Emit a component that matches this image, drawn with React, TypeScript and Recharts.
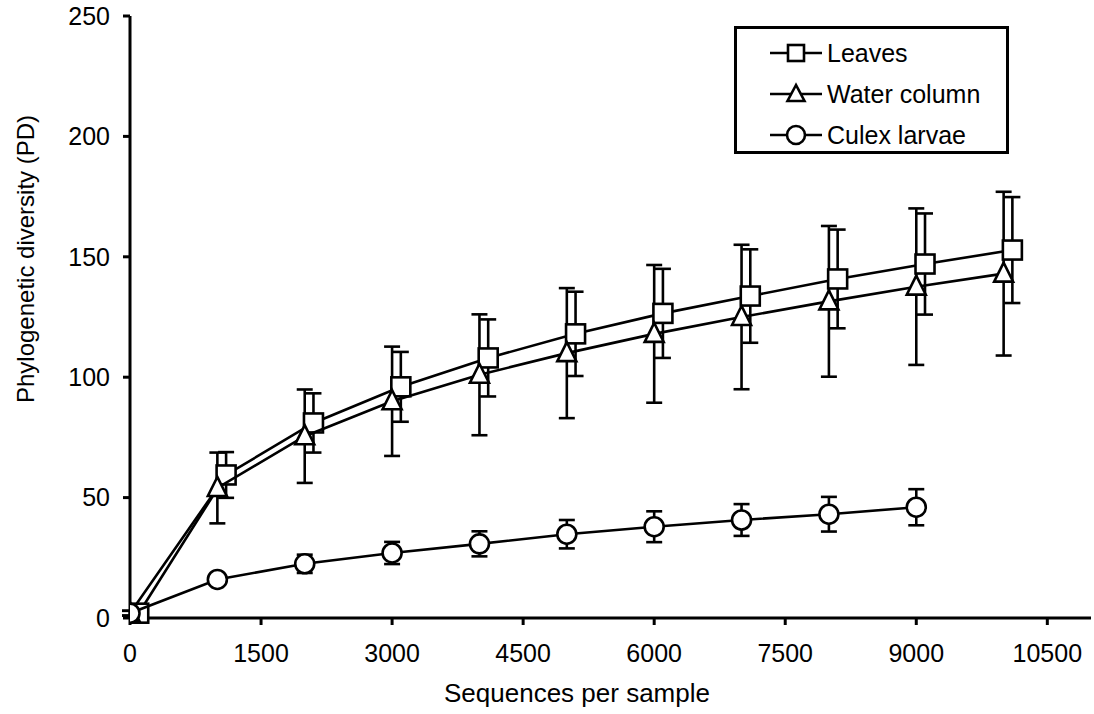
import { ErrorBar, Scatter, ScatterChart, XAxis, YAxis, Label } from "recharts";

const seriesNames = ["Leaves", "Water column", "Culex larvae"];
const xTitle = "Sequences per sample";
const yTitle = "Phylogenetic diversity (PD)";

const leavesX = [100, 1100, 2100, 3100, 4100, 5100, 6100, 7100, 8100, 9100, 10100];
const leavesPD = [2, 59.4, 81, 96, 108, 118, 126.5, 133.7, 140.8, 147, 152.8];
const leavesErr = [1, 9.5, 12.3, 14.5, 16, 17.5, 18.5, 19.4, 20.5, 21, 22];

const waterX = [0, 1000, 2000, 3000, 4000, 5000, 6000, 7000, 8000, 9000, 10000];
const waterPD = [2, 54, 75.5, 90, 101, 110, 118, 125, 131.5, 137.6, 143];
const waterErr = [1, 14.7, 19.4, 22.7, 25.1, 27, 28.6, 30, 31.3, 32.5, 34];

const culexX = [0, 1000, 2000, 3000, 4000, 5000, 6000, 7000, 8000, 9000];
const culexPD = [2, 16, 22.5, 27, 30.8, 34.8, 37.9, 40.7, 43.1, 46];
const culexErr = [1, 2, 3.8, 4.6, 5.2, 5.9, 6.4, 6.6, 7.2, 7.5];

const xTicks = [0, 1500, 3000, 4500, 6000, 7500, 9000, 10500];
const yTicks = [0, 50, 100, 150, 200, 250];

const toRows = (xs: number[], ys: number[], es: number[]) =>
  xs.map((x, i) => ({ x, y: ys[i], err: es[i] }));

const leaves = toRows(leavesX, leavesPD, leavesErr);
const water = toRows(waterX, waterPD, waterErr);
const culex = toRows(culexX, culexPD, culexErr);

const FONT = "'Liberation Sans', Arial, sans-serif";
const SW = 2.6;

const SquareMark = ({ cx, cy }: any) => (
  <rect x={cx - 9.5} y={cy - 9.5} width={19} height={19} fill="#fff" stroke="#000" strokeWidth={SW} />
);
const TriMark = ({ cx, cy }: any) => (
  <polygon
    points={`${cx},${cy - 11} ${cx - 9.5},${cy + 8} ${cx + 9.5},${cy + 8}`}
    fill="#fff"
    stroke="#000"
    strokeWidth={SW}
  />
);
const CircleMark = ({ cx, cy }: any) => (
  <circle cx={cx} cy={cy} r={9.5} fill="#fff" stroke="#000" strokeWidth={SW} />
);

function LegendIcon({ kind }: { kind: number }) {
  return (
    <svg width={56} height={24} style={{ display: "block" }}>
      <line x1={2} y1={12} x2={54} y2={12} stroke="#000" strokeWidth={SW} />
      {kind === 0 && <rect x={20} y={4} width={16} height={16} fill="#fff" stroke="#000" strokeWidth={SW} />}
      {kind === 1 && (
        <polygon points="28,3 19.5,19 36.5,19" fill="#fff" stroke="#000" strokeWidth={SW} />
      )}
      {kind === 2 && <circle cx={28} cy={12} r={9} fill="#fff" stroke="#000" strokeWidth={SW} />}
    </svg>
  );
}

export default function App() {
  return (
    <div style={{ position: "absolute", left: 0, top: 0, width: 1094, height: 714, background: "#fff" }}>
      <ScatterChart width={1094} height={714} margin={{ top: 16, right: 3, left: 0, bottom: 0 }}>
        <XAxis
          type="number"
          dataKey="x"
          domain={[0, 11000]}
          ticks={xTicks}
          allowDataOverflow
          height={96}
          tickSize={7}
          tickMargin={19}
          axisLine={{ stroke: "#000", strokeWidth: 3 }}
          tickLine={{ stroke: "#000", strokeWidth: 3 }}
          tick={{ fill: "#000", fontSize: 25, fontFamily: FONT }}
        >
          <Label
            content={() => (
              <text x={577} y={693} textAnchor="middle" dominantBaseline="central" fill="#000" fontSize={26} fontFamily={FONT}>
                {xTitle}
              </text>
            )}
          />
        </XAxis>
        <YAxis
          type="number"
          dataKey="y"
          domain={[0, 250]}
          ticks={yTicks}
          width={130}
          tickSize={7}
          tickMargin={13}
          axisLine={{ stroke: "#000", strokeWidth: 3 }}
          tickLine={{ stroke: "#000", strokeWidth: 3 }}
          tick={{ fill: "#000", fontSize: 25, fontFamily: FONT }}
        >
          <Label
            content={() => (
              <text
                x={25}
                y={259}
                transform="rotate(-90 25 259)"
                textAnchor="middle"
                dominantBaseline="central"
                fill="#000"
                fontSize={24}
                fontFamily={FONT}
              >
                {yTitle}
              </text>
            )}
          />
        </YAxis>
        <Scatter
          name={seriesNames[0]}
          data={leaves}
          line={{ stroke: "#000", strokeWidth: SW }}
          lineType="joint"
          shape={SquareMark}
          isAnimationActive={false}
        >
          <ErrorBar dataKey="err" direction="y" width={8} stroke="#000" strokeWidth={SW} />
        </Scatter>
        <Scatter
          name={seriesNames[1]}
          data={water}
          line={{ stroke: "#000", strokeWidth: SW }}
          lineType="joint"
          shape={TriMark}
          isAnimationActive={false}
        >
          <ErrorBar dataKey="err" direction="y" width={8} stroke="#000" strokeWidth={SW} />
        </Scatter>
        <Scatter
          name={seriesNames[2]}
          data={culex}
          line={{ stroke: "#000", strokeWidth: SW }}
          lineType="joint"
          shape={CircleMark}
          isAnimationActive={false}
        >
          <ErrorBar dataKey="err" direction="y" width={8} stroke="#000" strokeWidth={SW} />
        </Scatter>
      </ScatterChart>
      <div
        style={{
          position: "absolute",
          left: 734,
          top: 26,
          width: 269,
          height: 122,
          border: "3px solid #000",
          fontFamily: FONT,
          fontSize: 25,
          color: "#000",
          boxSizing: "content-box",
        }}
      >
        {seriesNames.map((n, i) => (
          <div
            key={n}
            style={{ position: "absolute", left: 31, top: 10 + i * 41, display: "flex", alignItems: "center", height: 28 }}
          >
            <LegendIcon kind={i} />
            <span style={{ marginLeft: 3, lineHeight: "28px" }}>{n}</span>
          </div>
        ))}
      </div>
    </div>
  );
}
